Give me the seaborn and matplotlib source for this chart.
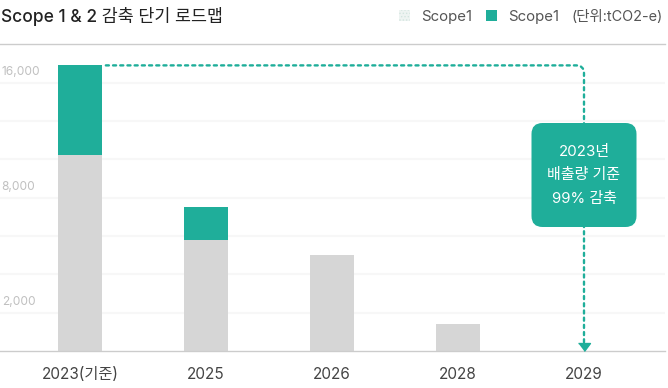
import matplotlib
matplotlib.use('Agg')
import matplotlib.pyplot as plt
import seaborn as sns
import pandas as pd
from matplotlib.patches import Patch, FancyBboxPatch, FancyArrowPatch
from matplotlib.transforms import offset_copy

# ---- data ----
categories = ['2023(기준)', '2025', '2026', '2028', '2029']
scope1_gray = [10200, 5800, 5000, 1400, 0]
scope2_green = [4700, 1720, 0, 0, 0]
grid_values = [2000, 4000, 6000, 8000, 10000, 12000, 14000]
y_tick_values = [2000, 8000, 14000]
y_tick_labels = ['2,000', '8,000', '16,000']
legend_labels = ['Scope1', 'Scope1']
unit_label = '(단위:tCO2-e)'
title = 'Scope 1 & 2 감축 단기 로드맵'
callout_lines = ['2023년', '배출량 기준', '99% 감축']

GREEN = '#1FAE9A'
GRAY = '#D6D6D6'

sns.set_theme(style='white')
plt.rcParams['font.family'] = ['Inter', 'Noto Sans CJK KR', 'DejaVu Sans']
plt.rcParams['hatch.linewidth'] = 0.6

W, H = 668, 388
fig = plt.figure(figsize=(W / 100, H / 100), dpi=100)
ax = fig.add_axes([0, 1 - 351 / H, 665 / W, (351 - 44.3) / H])

df = pd.DataFrame({'cat': categories, 's1': scope1_gray, 's2': scope2_green})
df['total'] = df['s1'] + df['s2']

sns.barplot(data=df, x='cat', y='total', color=GREEN, width=0.35, ax=ax,
            saturation=1, linewidth=0, zorder=2)
sns.barplot(data=df, x='cat', y='s1', color=GRAY, width=0.35, ax=ax,
            saturation=1, linewidth=0, zorder=2)

ax.set_xlim(-80 / 126, (665 - 80) / 126)
ax.set_ylim(0, 16000)
ax.set_xlabel('')
ax.set_ylabel('')
ax.set_yticks([])
for v in grid_values:
    ax.axhline(v, color='#F7F7F7', lw=1.6, zorder=0)

for s in ['left', 'right']:
    ax.spines[s].set_visible(False)
for s in ['top', 'bottom']:
    ax.spines[s].set_color('#CCCCCC')
    ax.spines[s].set_linewidth(1.0)

ax.tick_params(axis='x', length=0, pad=11.5, labelsize=11, labelcolor='#444444')

for v, lab in zip(y_tick_values, y_tick_labels):
    ax.annotate(lab, xy=(0, v), xycoords=('axes fraction', 'data'),
                xytext=(1.2, 7.9), textcoords='offset points',
                ha='left', va='center', fontsize=8.6, color='#C0C0C0')

# ---- dotted connector from 2023 total to 2029 ----
x_start = 0 + 0.35 / 2 + 0.03
x_end = len(categories) - 1
y_top = df['total'].iloc[0]
y_bottom = 16000 * 8 / 306.7
conn = FancyArrowPatch(posA=(x_start, y_top), posB=(x_end, y_bottom),
                       connectionstyle='angle,angleA=0,angleB=90,rad=8',
                       arrowstyle='-', linestyle=(0, (1.3, 1.75)), linewidth=1.7,
                       color=GREEN, shrinkA=0, shrinkB=0, zorder=3)
ax.add_patch(conn)

tri = [(-6, 4), (6, 4), (0, -4)]
ax.plot([x_end], [0], marker=tri, markersize=8.6, color=GREEN, linestyle='none',
        transform=offset_copy(ax.transData, fig=fig, x=0, y=4, units='dots'),
        clip_on=False, zorder=5)

# ---- callout box ----
fig.canvas.draw()
p0 = ax.transData.transform((0, 0))
p1 = ax.transData.transform((1, 1000))
px_per_x = p1[0] - p0[0]
px_per_y = (p1[1] - p0[1]) / 1000
aspect = px_per_x / px_per_y
box_w = 105 / px_per_x
box_y0 = (351 - 227) / px_per_y
box_h = 104 / px_per_y
box = FancyBboxPatch((x_end - box_w / 2, box_y0), box_w, box_h,
                     boxstyle='round,pad=0,rounding_size=%f' % (11 / px_per_x),
                     mutation_aspect=aspect, facecolor=GREEN, edgecolor='none',
                     zorder=6)
ax.add_patch(box)
cy = box_y0 + box_h / 2
for i, line in enumerate(callout_lines):
    ax.text(x_end, cy, line, ha='center', va='center', color='white', fontsize=10.8,
            transform=offset_copy(ax.transData, fig=fig, x=0, y=(1 - i) * 23.5,
                                  units='dots'), zorder=7)

# ---- title & legend ----
fig.text(1 / W, 1 - 16 / H, title, fontsize=12.5, fontweight='medium',
         color='#222222', ha='left', va='center')

handles = [Patch(facecolor='#EEF4F2', edgecolor='#D3E5DF', hatch='.....', linewidth=0),
           Patch(facecolor=GREEN, edgecolor='none')]
fig.legend(handles=handles, labels=legend_labels, loc='center left',
           bbox_to_anchor=(399 / W, 1 - 17 / H), ncol=2, frameon=False,
           fontsize=10.8, handlelength=0.75, handleheight=0.75, handletextpad=0.7,
           columnspacing=0.95, borderpad=0, borderaxespad=0, labelcolor='#555555')
fig.text(663 / W, 1 - 17 / H, unit_label, fontsize=10.4, color='#555555',
         ha='right', va='center')

fig.savefig('out.png', dpi=100)
